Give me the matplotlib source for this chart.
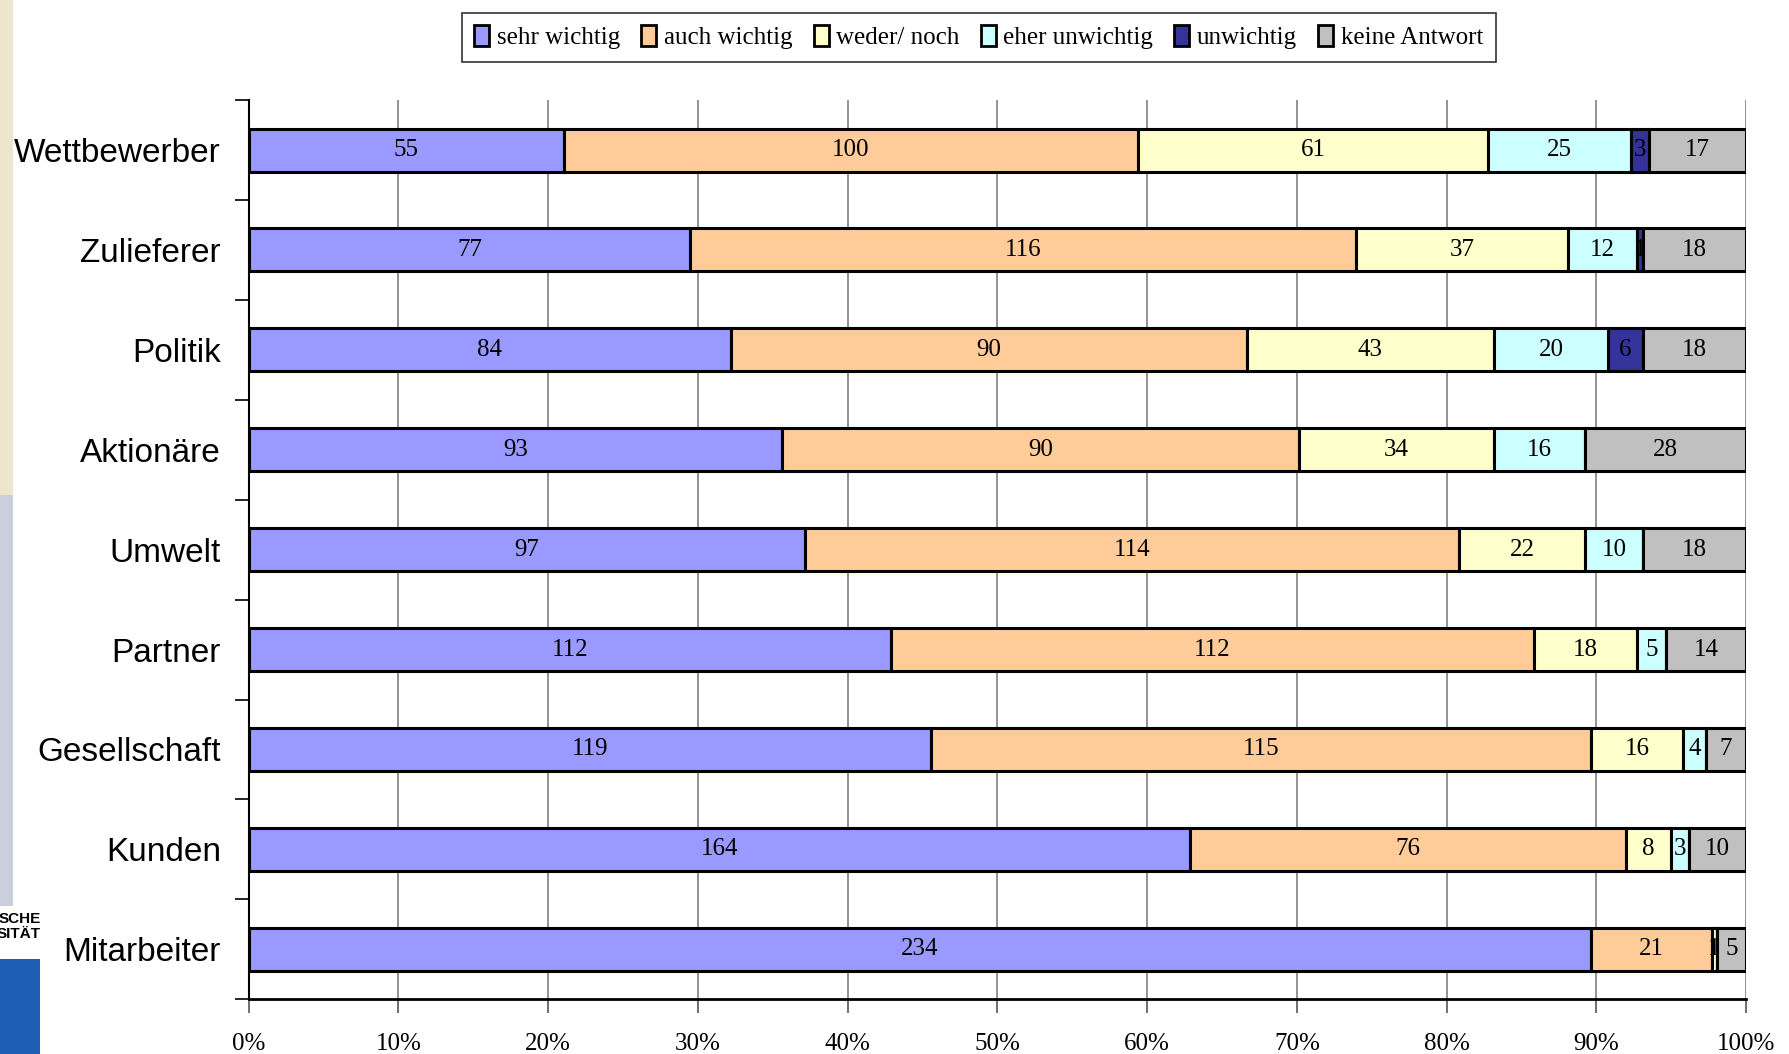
import numpy as np
import matplotlib
matplotlib.use("Agg")
import matplotlib.pyplot as plt
from matplotlib.patches import Rectangle

# data (counts per answer, 261 respondents each)
categories = ["Wettbewerber", "Zulieferer", "Politik", "Aktionäre", "Umwelt",
              "Partner", "Gesellschaft", "Kunden", "Mitarbeiter"]
series_names = ["sehr wichtig", "auch wichtig", "weder/ noch",
                "eher unwichtig", "unwichtig", "keine Antwort"]
sehr_wichtig = [55, 77, 84, 93, 97, 112, 119, 164, 234]
auch_wichtig = [100, 116, 90, 90, 114, 112, 115, 76, 21]
weder_noch = [61, 37, 43, 34, 22, 18, 16, 8, 1]
eher_unwichtig = [25, 12, 20, 16, 10, 5, 4, 3, 0]
unwichtig = [3, 1, 6, 0, 0, 0, 0, 0, 0]
keine_antwort = [17, 18, 18, 28, 18, 14, 7, 10, 5]
x_ticklabels = ["0%", "10%", "20%", "30%", "40%", "50%",
                "60%", "70%", "80%", "90%", "100%"]

colors = ["#9999FF", "#FFCC99", "#FFFFCC", "#CCFFFF", "#333399", "#C0C0C0"]

counts = np.array([sehr_wichtig, auch_wichtig, weder_noch,
                   eher_unwichtig, unwichtig, keine_antwort], dtype=float)
shares = counts / counts.sum(axis=0)

fig = plt.figure(figsize=(17.89, 10.54), dpi=100)
ax = fig.add_axes([0.139, 0.052, 0.837, 0.853])

y = np.arange(len(categories))
left = np.zeros(len(categories))
for i, name in enumerate(series_names):
    ax.barh(y, shares[i], left=left, height=0.43, color=colors[i],
            edgecolor="black", linewidth=2.2, label=name, zorder=3)
    for j in range(len(categories)):
        if counts[i, j] > 0:
            ax.text(left[j] + shares[i, j] / 2, y[j], f"{int(counts[i, j])}",
                    ha="center", va="center", fontsize=18,
                    family="Liberation Serif", zorder=4)
    left += shares[i]

ax.set_xlim(0, 1)
ax.set_ylim(len(categories) - 0.5, -0.5)
ax.set_xticks(np.linspace(0, 1, 11))
ax.set_xticklabels(x_ticklabels, family="Liberation Serif", fontsize=18)
ax.set_yticks(y)
ax.set_yticklabels(categories, family="Liberation Sans", fontsize=24)
ax.set_yticks(np.arange(-0.5, len(categories)), minor=True)
ax.tick_params(axis="y", which="major", length=0, pad=20)
ax.tick_params(axis="y", which="minor", length=10, width=1.2, direction="out")
ax.tick_params(axis="x", length=10, width=1.2, direction="out", pad=14,
               color="#555555")

ax.grid(axis="x", color="#808080", linewidth=1.2, zorder=0)
for s in ["top", "right"]:
    ax.spines[s].set_visible(False)
ax.spines["left"].set_linewidth(1.5)
ax.spines["bottom"].set_linewidth(2)

leg = fig.legend(loc="upper center", bbox_to_anchor=(0.547, 1.0), ncol=6,
                 frameon=True, fancybox=False, edgecolor="black",
                 prop={"family": "Liberation Serif", "size": 18},
                 handlelength=0.6, handleheight=0.9, handletextpad=0.3,
                 columnspacing=0.85, borderpad=0.5)
leg.get_frame().set_linewidth(1.2)
for h in leg.legend_handles:
    h.set_linewidth(2)

# beige strip and logo remnant at the left edge
fig.patches.append(Rectangle((0, 0.53), 13 / 1789, 0.47, transform=fig.transFigure,
                             facecolor="#EDE6CC", edgecolor="none", zorder=0))
fig.patches.append(Rectangle((0, 0.14), 13 / 1789, 0.39, transform=fig.transFigure,
                             facecolor="#C9CFDC", edgecolor="none", zorder=0))
fig.patches.append(Rectangle((0, 0.0), 40 / 1789, 0.09, transform=fig.transFigure,
                             facecolor="#1E5FB4", edgecolor="none", zorder=1))
fig.text(41 / 1789, 0.135, "SCHE\nSITÄT", fontsize=11, fontweight="bold",
         family="Liberation Sans", ha="right", va="top", linespacing=1.1)

fig.savefig("out.png", dpi=100, facecolor="white")
